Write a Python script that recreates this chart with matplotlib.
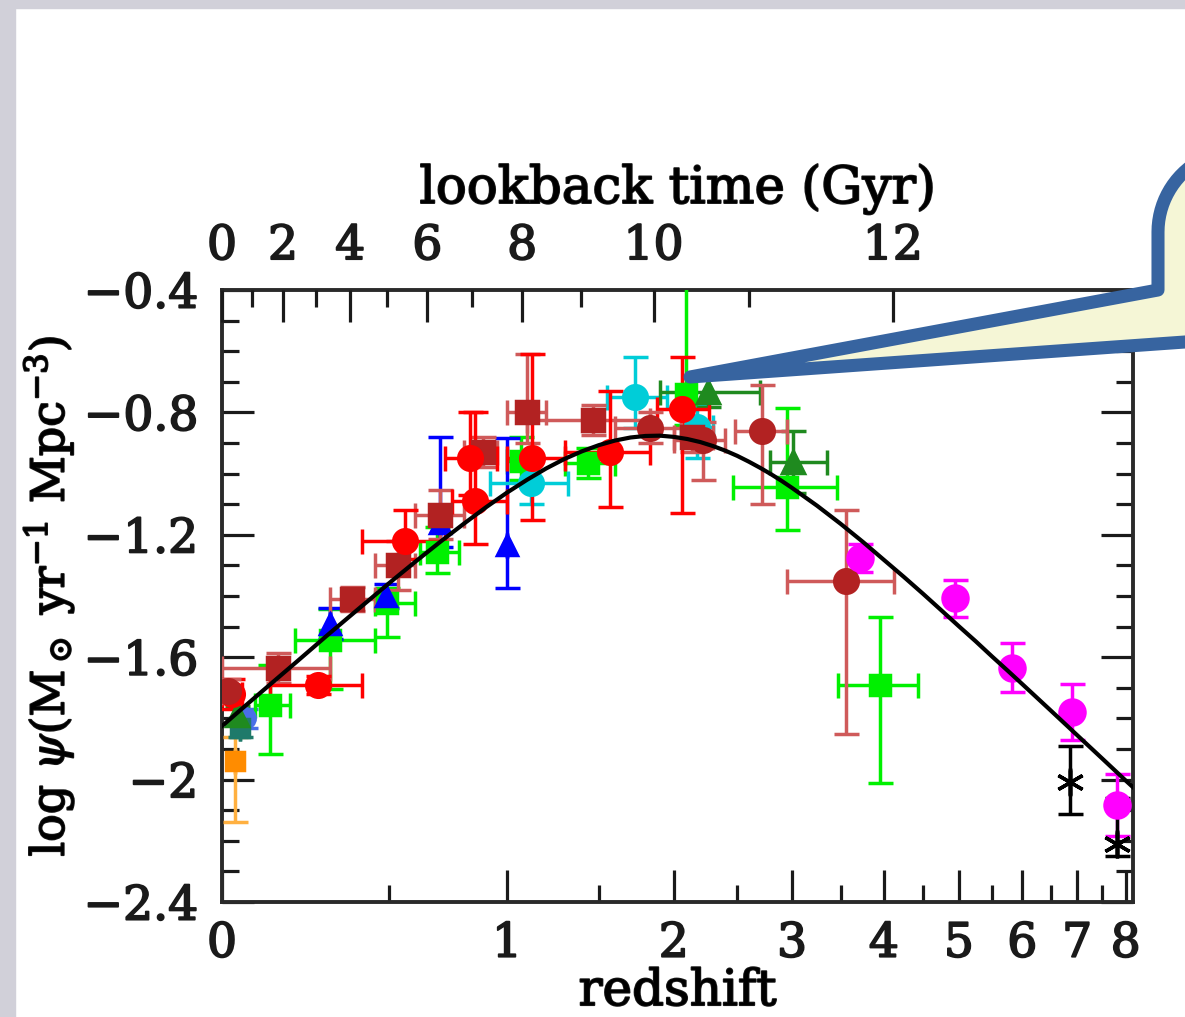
import numpy as np
import matplotlib
matplotlib.use("Agg")
import matplotlib.pyplot as plt
from matplotlib import patheffects
from matplotlib.patches import Rectangle, Polygon

plt.rcParams['font.family'] = ['DejaVu Serif']
plt.rcParams['mathtext.fontset'] = 'dejavuserif'

# best fit curve, log psi read along redshift
curve_z = [0, 0.05, 0.1, 0.2, 0.3, 0.4, 0.5, 0.6, 0.7, 0.8, 0.9, 1.0, 1.1, 1.2, 1.3,
           1.4, 1.5, 1.6, 1.7, 1.8, 1.9, 2.0, 2.1, 2.2, 2.3, 2.4, 2.5, 2.6, 2.7, 2.8,
           2.9, 3.0, 3.25, 3.5, 3.75, 4.0, 4.25, 4.5, 4.75, 5.0, 5.25, 5.5, 5.75, 6.0,
           6.5, 7.0, 7.5, 8.0, 8.2]
curve_psi = [-1.825, -1.768, -1.714, -1.614, -1.521, -1.437, -1.359, -1.288, -1.223,
             -1.164, -1.110, -1.062, -1.020, -0.983, -0.952, -0.927, -0.907, -0.892,
             -0.882, -0.877, -0.876, -0.880, -0.887, -0.897, -0.910, -0.925, -0.942,
             -0.961, -0.981, -1.002, -1.024, -1.047, -1.105, -1.164, -1.223, -1.282,
             -1.338, -1.393, -1.447, -1.499, -1.548, -1.597, -1.643, -1.688, -1.774,
             -1.855, -1.931, -2.003, -2.030]

# measurements: z, log psi, redshift bin edges, lower / upper errors
red_z = [0.025, 0.263, 0.561, 0.828, 0.85, 1.126, 1.57, 2.062]
red_psi = [-1.72, -1.69, -1.22, -0.95, -1.09, -0.95, -0.93, -0.79]
red_zlo = [0.0, 0.124, 0.405, 0.72, 0.75, 1.0, 1.3, 1.88]
red_zhi = [0.05, 0.405, 0.72, 0.95, 1.0, 1.3, 1.83, 2.27]
red_dn = [0.05, 0.03, 0.06, 0.12, 0.14, 0.20, 0.18, 0.34]
red_up = [0.05, 0.03, 0.10, 0.15, 0.29, 0.34, 0.20, 0.17]

dred_z = [0.015, 1.833, 2.222, 2.719, 3.561]
dred_psi = [-1.71, -0.85, -0.89, -0.86, -1.35]
dred_zlo = [0.0, 1.6, 2.0, 2.48, 2.95]
dred_zhi = [0.03, 2.05, 2.4, 2.95, 4.12]
dred_dn = [0.04, 0.05, 0.13, 0.24, 0.50]
dred_up = [0.04, 0.05, 0.06, 0.15, 0.23]

dsq_z = [0.146, 0.372, 0.535, 0.699, 0.887, 1.10, 1.466, 2.137]
dsq_psi = [-1.635, -1.41, -1.30, -1.135, -0.93, -0.80, -0.825, -0.88]
dsq_zlo = [0.0, 0.3, 0.45, 0.6, 0.8, 1.0, 1.1, 2.0]
dsq_zhi = [0.3, 0.45, 0.6, 0.8, 0.95, 1.2, 1.83, 2.3]
dsq_dn = [0.05, 0.04, 0.08, 0.08, 0.05, 0.10, 0.05, 0.05]
dsq_up = [0.05, 0.04, 0.08, 0.08, 0.05, 0.19, 0.05, 0.05]

grn_z = [0.124, 0.30, 0.495, 0.687, 1.07, 1.436, 2.09, 2.953, 3.955]
grn_psi = [-1.756, -1.544, -1.423, -1.256, -0.96, -0.965, -0.74, -1.044, -1.69]
grn_zlo = [0.083, 0.195, 0.45, 0.62, 1.0, 1.3, 2.09, 2.467, 3.475]
grn_zhi = [0.18, 0.45, 0.6, 0.78, 1.15, 1.6, 2.09, 3.463, 4.436]
grn_dn = [0.16, 0.16, 0.11, 0.07, 0.06, 0.05, 0.10, 0.14, 0.32]
grn_up = [0.13, 0.10, 0.05, 0.08, 0.08, 0.05, 0.40, 0.26, 0.22]

dgrn_z = [0.037, 2.262, 3.011]
dgrn_psi = [-1.79, -0.733, -0.962]
dgrn_zlo = [0.037, 1.902, 2.793]
dgrn_zhi = [0.037, 2.701, 3.356]
dgrn_dn = [0.03, 0.05, 0.10]
dgrn_up = [0.03, 0.05, 0.10]

cyan_z = [1.12, 1.731, 2.175]
cyan_psi = [-1.03, -0.75, -0.848]
cyan_zlo = [0.92, 1.55, 2.05]
cyan_zhi = [1.32, 1.95, 2.3]
cyan_dn = [0.07, 0.10, 0.10]
cyan_up = [0.07, 0.13, 0.07]

blue_z = [0.30, 0.49, 0.70, 1.0]
blue_psi = [-1.49, -1.40, -1.16, -1.233]
blue_dn = [0.05, 0.04, 0.08, 0.14]
blue_up = [0.05, 0.04, 0.28, 0.35]

local_z = [0.057, 0.045]
local_psi = [-1.80, -1.83]
local_err = [0.03, 0.03]

orange_z = [0.032]
orange_psi = [-1.94]
orange_dn = [0.20]
orange_up = [0.08]

mag_z = [3.72, 4.95, 5.83, 6.9, 7.82]
mag_psi = [-1.276, -1.407, -1.635, -1.779, -2.083]
mag_err = [0.045, 0.06, 0.08, 0.09, 0.10]

blk_z = [6.87, 7.82]
blk_psi = [-2.008, -2.21]
blk_dn = [0.105, 0.04]
blk_up = [0.118, 0.15]

y_ticks = [-0.4, -0.8, -1.2, -1.6, -2.0, -2.4]
y_ticklabels = ['\u22120.4', '\u22120.8', '\u22121.2', '\u22121.6', '\u22122', '\u22122.4']
z_ticks = [0, 1, 2, 3, 4, 5, 6, 7, 8]
z_minor = [0.5, 1.5, 2.5, 3.5, 4.5, 5.5, 6.5, 7.5]
t_ticks = [0, 2, 4, 6, 8, 10, 12]
t_minor = [1, 3, 5, 7, 9, 11]


def lz(z):
    return np.log10(1 + np.asarray(z, dtype=float))


def lookback_to_x(t, h0=70.0, om=0.3, ol=0.7):
    # flat LCDM lookback time (Gyr) -> log(1+z)
    th = 977.8 / h0
    pre = 2.0 / (3.0 * np.sqrt(ol)) * th
    k = np.sqrt(ol / om)
    t0 = pre * np.arcsinh(k)
    a32 = np.sinh((t0 - np.asarray(t, dtype=float)) / pre) / k
    return np.log10(a32 ** (-2.0 / 3.0))


fig = plt.figure(figsize=(11.85, 10.17), dpi=100)
fig.patches.append(Rectangle((0, 1 - 8 / 1017), 1, 8 / 1017, transform=fig.transFigure,
                             color='#d1d0d9', zorder=0))
fig.patches.append(Rectangle((0, 0), 15 / 1185, 1, transform=fig.transFigure,
                             color='#d1d0d9', zorder=0))

ax = fig.add_axes([222 / 1185, 1 - 902 / 1017, 911 / 1185, 612 / 1017])
XMAX = 0.962
ax.set_xlim(0, XMAX)
ax.set_ylim(-2.4, -0.4)


def draw_set(z, psi, zlo, zhi, dn, up, color, marker, ms, ecolor=None):
    x = lz(z)
    xerr = [x - lz(zlo), lz(zhi) - x]
    ax.errorbar(x, psi, xerr=xerr, yerr=[dn, up], fmt='none',
                ecolor=ecolor or color, elinewidth=2.5,
                capsize=9, capthick=2.5, zorder=3)
    ax.plot(x, psi, ls='none', marker=marker, ms=ms, color=color, mec=color,
            mew=2.5, zorder=4)


draw_set(orange_z, orange_psi, orange_z, orange_z, orange_dn, orange_up,
         '#ff8c00', 's', 13, ecolor='#ffb040')
draw_set(local_z[:1], local_psi[:1], local_z[:1], local_z[:1], local_err[:1], local_err[:1],
         '#4a6ee8', 'o', 14)
draw_set(local_z[1:], local_psi[1:], local_z[1:], local_z[1:], local_err[1:], local_err[1:],
         '#1f7a6a', 's', 13)
draw_set(grn_z, grn_psi, grn_zlo, grn_zhi, grn_dn, grn_up, '#00f000', 's', 15)
draw_set(blue_z, blue_psi, blue_z, blue_z, blue_dn, blue_up, '#0000ff', '^', 15)
draw_set(cyan_z, cyan_psi, cyan_zlo, cyan_zhi, cyan_dn, cyan_up, '#00cdd8', 'o', 17)
draw_set(dgrn_z, dgrn_psi, dgrn_zlo, dgrn_zhi, dgrn_dn, dgrn_up, '#1f8a1f', '^', 16)
draw_set(dsq_z, dsq_psi, dsq_zlo, dsq_zhi, dsq_dn, dsq_up, '#b22222', 's', 16, ecolor='#cf5a5a')
draw_set(red_z, red_psi, red_zlo, red_zhi, red_dn, red_up, '#ff0000', 'o', 17)
draw_set(dred_z, dred_psi, dred_zlo, dred_zhi, dred_dn, dred_up, '#b22222', 'o', 17,
         ecolor='#cf5a5a')
draw_set(mag_z, mag_psi, mag_z, mag_z, mag_err, mag_err, '#ff00ff', 'o', 18)
draw_set(blk_z, blk_psi, blk_z, blk_z, blk_dn, blk_up, '#000000', (6, 2, 0), 20)

ax.plot(lz(curve_z), curve_psi, color='black', lw=3, zorder=5)

# axes frame and ticks
for sp in ax.spines.values():
    sp.set_linewidth(2.8)
    sp.set_color('#2a2a2a')
ax.set_yticks(y_ticks)
ax.set_yticklabels(y_ticklabels)
ax.set_yticks(np.arange(-2.4, -0.39, 0.1), minor=True)
ax.set_xticks(lz(z_ticks))
ax.set_xticklabels([str(v) for v in z_ticks])
ax.set_xticks(lz(z_minor), minor=True)
ax.tick_params(which='both', direction='in', width=2.3, labelsize=34, right=True,
               top=False, colors='#1a1a1a')
ax.tick_params(which='major', length=23)
ax.tick_params(which='minor', length=12)
ax.tick_params(axis='y', which='major', pad=17)
ax.tick_params(axis='x', which='major', pad=14)
ax.set_xlabel('redshift', fontsize=36, labelpad=0)
ax.set_ylabel(r'log $\psi$(M$_\odot$ yr$^{-1}$ Mpc$^{-3}$)', fontsize=33, labelpad=5)

top = ax.twiny()
top.set_xlim(0, XMAX)
top.set_xticks(lookback_to_x(t_ticks))
top.set_xticklabels([str(v) for v in t_ticks])
top.set_xticks(lookback_to_x(t_minor), minor=True)
top.tick_params(which='both', direction='in', width=2.3, labelsize=34, colors='#1a1a1a')
top.tick_params(which='major', length=23, pad=15)
top.tick_params(which='minor', length=12)
top.set_xlabel('lookback time (Gyr)', fontsize=37, labelpad=15)
for sp in top.spines.values():
    sp.set_visible(False)

# thicken the thin serif strokes a little
heavy = [patheffects.withStroke(linewidth=1.3, foreground='#1a1a1a')]
texts = (ax.get_xticklabels() + ax.get_yticklabels() + top.get_xticklabels()
         + [ax.xaxis.label, ax.yaxis.label, top.xaxis.label])
for t in texts:
    t.set_path_effects(heavy)

# speech bubble callout pointing into the peak
ov = fig.add_axes([0, 0, 1, 1], zorder=10)
ov.set_xlim(0, 1185)
ov.set_ylim(1017, 0)
ov.axis('off')
ang = np.linspace(np.pi, 1.5 * np.pi, 24)
arc = np.column_stack([1240 + 82 * np.cos(ang), 232 + 82 * np.sin(ang)])
verts = np.vstack([[[690, 377], [1158, 290]], arc,
                   [[1330, 150], [1330, 331], [1185, 342]]])
ov.add_patch(Polygon(verts, closed=True, facecolor='#f5f6d6', edgecolor='#3764a0',
                     lw=9.4, joinstyle='round'))

fig.savefig('out.png', dpi=100, facecolor='white')
